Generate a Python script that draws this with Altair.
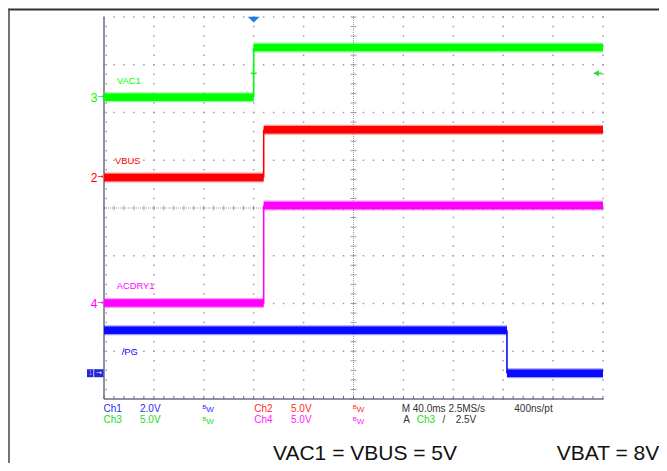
import altair as alt
import pandas as pd

# ---------------- data ----------------
channels    = ["VAC1", "VBUS", "ACDRY1", "/PG"]
scope_ch    = [3, 2, 4, 1]
volts_div   = [5.0, 5.0, 5.0, 2.0]
offset_div  = [2.32, 0.64, -1.99, -3.46]     # ground-marker position (div)
v_before    = [0.0, 0.0, 0.0, 1.8]           # level before the edge (V)
v_after     = [5.2, 5.0, 10.2, 0.0]          # level after the edge (V)
t_edge      = [0.0, 8.0, 8.0, 203.0]         # edge time (ms, trigger at 0)
colors      = ["#00ff00", "#ff0000", "#ff00ff", "#0a0aff"]
text_colors = ["#22dd22", "#ff2a2a", "#ff22ff", "#2a2aff"]

# channel label anchors (time ms, divisions)
label_t   = [-109.6, -111.2, -109.8, -105.8]
label_div = [2.60, 0.92, -1.70, -3.08]

t_min, t_max = -120.0, 280.0      # 10 div x 40 ms/div
y_min, y_max = -4.0, 4.0          # 8 divisions
trig_ch_index = 0                 # trigger on Ch3 (VAC1)
trig_level_v = 2.5

xs = alt.Scale(domain=[t_min, t_max], nice=False, zero=False)
ys = alt.Scale(domain=[y_min, y_max], nice=False, zero=False)
cscale = alt.Scale(domain=channels, range=colors)
tscale = alt.Scale(domain=channels, range=text_colors)

# ---------------- trace segments ----------------
hrows, vrows = [], []
for i, ch in enumerate(channels):
    lo = offset_div[i] + v_before[i] / volts_div[i]
    hi = offset_div[i] + v_after[i] / volts_div[i]
    hrows.append(dict(ch=ch, t0=t_min, t1=t_edge[i], y=lo))
    hrows.append(dict(ch=ch, t0=t_edge[i], t1=t_max, y=hi))
    vrows.append(dict(ch=ch, t=t_edge[i], y0=lo, y1=hi))
hdf = pd.DataFrame(hrows)
vdf = pd.DataFrame(vrows)

# ---------------- graticule ----------------
step_t = (t_max - t_min) / 50.0
step_y = (y_max - y_min) / 40.0
hlines = [4, 3, 2, 1, -1, -2, -3]
vlines = [-80, -40, 0, 40, 120, 160, 200, 240, 280]
dots = []
for yv in hlines:
    for k in range(51):
        dots.append(dict(t=t_min + k * step_t, y=yv))
for tv in vlines:
    for k in range(41):
        dots.append(dict(t=tv, y=y_min + k * step_y))
for k in range(1, 40):
    dots.append(dict(t=t_min + 1.8, y=y_min + k * step_y))
dots_df = pd.DataFrame(dots)

t_center = (t_min + t_max) / 2
hticks = pd.DataFrame(dict(t=[t_min + k * step_t for k in range(51)]))
vticks = pd.DataFrame(dict(y=[y_min + k * step_y for k in range(41)]))

grid_col = "#9a9aae"
edge_col = "#6c6c82"

dots_layer = alt.Chart(dots_df).mark_square(size=2.2, color=grid_col, opacity=1).encode(
    x=alt.X("t:Q", scale=xs, axis=None), y=alt.Y("y:Q", scale=ys, axis=None))

center_h = alt.Chart(pd.DataFrame(dict(a=[t_min], b=[t_max], y=[0.0]))).mark_rule(
    color=grid_col, strokeWidth=1, strokeDash=[1, 1]).encode(
    x=alt.X("a:Q", scale=xs, axis=None), x2="b:Q", y=alt.Y("y:Q", scale=ys, axis=None))
center_v = alt.Chart(pd.DataFrame(dict(t=[t_center], a=[y_min], b=[y_max]))).mark_rule(
    color=grid_col, strokeWidth=1, strokeDash=[1, 1]).encode(
    x=alt.X("t:Q", scale=xs, axis=None), y=alt.Y("a:Q", scale=ys, axis=None), y2="b:Q")
center_h_ticks = alt.Chart(hticks).transform_calculate(a="-0.05", b="0.05").mark_rule(
    color=grid_col, strokeWidth=1).encode(
    x=alt.X("t:Q", scale=xs, axis=None), y=alt.Y("a:Q", scale=ys, axis=None), y2="b:Q")
center_v_ticks = alt.Chart(vticks).transform_calculate(
    a=f"{t_center} - 2.4", b=f"{t_center} + 2.4").mark_rule(
    color=grid_col, strokeWidth=1).encode(
    x=alt.X("a:Q", scale=xs, axis=None), x2="b:Q", y=alt.Y("y:Q", scale=ys, axis=None))
bottom_ticks = alt.Chart(hticks).transform_calculate(a=f"{y_min}", b=f"{y_min} + 0.065").mark_rule(
    color=edge_col, strokeWidth=1).encode(
    x=alt.X("t:Q", scale=xs, axis=None), y=alt.Y("a:Q", scale=ys, axis=None), y2="b:Q")
left_edge = alt.Chart(pd.DataFrame(dict(t=[t_min], a=[y_min], b=[y_max]))).mark_rule(
    color=edge_col, strokeWidth=1.5).encode(
    x=alt.X("t:Q", scale=xs, axis=None), y=alt.Y("a:Q", scale=ys, axis=None), y2="b:Q")
bottom_edge = alt.Chart(pd.DataFrame(dict(a=[t_min], b=[t_max], y=[y_min]))).mark_rule(
    color=edge_col, strokeWidth=1.5).encode(
    x=alt.X("a:Q", scale=xs, axis=None), x2="b:Q", y=alt.Y("y:Q", scale=ys, axis=None))

# ---------------- traces ----------------
band_soft = alt.Chart(hdf).mark_rule(strokeWidth=10, opacity=0.4, strokeCap="butt").encode(
    x=alt.X("t0:Q", scale=xs, axis=None), x2="t1:Q", y=alt.Y("y:Q", scale=ys, axis=None),
    color=alt.Color("ch:N", scale=cscale, legend=None))
band_core = alt.Chart(hdf).mark_rule(strokeWidth=7.5, strokeCap="butt").encode(
    x=alt.X("t0:Q", scale=xs, axis=None), x2="t1:Q", y=alt.Y("y:Q", scale=ys, axis=None),
    color=alt.Color("ch:N", scale=cscale, legend=None))
edges = alt.Chart(vdf).mark_rule(strokeWidth=1.6).encode(
    x=alt.X("t:Q", scale=xs, axis=None), y=alt.Y("y0:Q", scale=ys, axis=None), y2="y1:Q",
    color=alt.Color("ch:N", scale=cscale, legend=None))

trig_div = offset_div[trig_ch_index] + trig_level_v / volts_div[trig_ch_index]
trig_tick = alt.Chart(pd.DataFrame(dict(a=[-2.4], b=[2.4], y=[trig_div]))).mark_rule(
    color=colors[trig_ch_index], strokeWidth=1.5).encode(
    x=alt.X("a:Q", scale=xs, axis=None), x2="b:Q", y=alt.Y("y:Q", scale=ys, axis=None))
# trigger-level arrow at the right edge
trig_arrow_line = alt.Chart(pd.DataFrame(dict(a=[t_max - 5.6], b=[t_max - 0.8], y=[trig_div]))).mark_rule(
    color="#33dd33", strokeWidth=1.5).encode(
    x=alt.X("a:Q", scale=xs, axis=None), x2="b:Q", y=alt.Y("y:Q", scale=ys, axis=None))
trig_arrow_head = alt.Chart(pd.DataFrame(dict(t=[t_max - 5.6], y=[trig_div]))).mark_point(
    shape="M-1,0L1,-1L1,1Z", size=36, filled=True, opacity=1, color="#33dd33").encode(
    x=alt.X("t:Q", scale=xs, axis=None), y=alt.Y("y:Q", scale=ys, axis=None))
trig_pos = alt.Chart(pd.DataFrame(dict(t=[0.0]))).mark_point(
    shape="M-1,-0.45L1,-0.45L0,0.5Z", size=144, filled=True, color="#1f7de6", opacity=1).encode(
    x=alt.X("t:Q", scale=xs, axis=None), y=alt.value(2.5))

# ---------------- labels ----------------
lab_df = pd.DataFrame(dict(t=label_t, y=label_div, text=channels, ch=channels))
labels = alt.Chart(lab_df).mark_text(font="Liberation Sans", fontSize=9.4, align="left",
                                     baseline="alphabetic").encode(
    x=alt.X("t:Q", scale=xs, axis=None), y=alt.Y("y:Q", scale=ys, axis=None), text="text:N",
    color=alt.Color("ch:N", scale=tscale, legend=None))

gm_df = pd.DataFrame(dict(y=offset_div[:3], text=[str(c) for c in scope_ch[:3]], ch=channels[:3]))
gm_num = alt.Chart(gm_df).mark_text(font="Liberation Sans", fontSize=12, align="right",
                                    baseline="middle", dy=0.5).encode(
    x=alt.value(-6.5), y=alt.Y("y:Q", scale=ys, axis=None), text="text:N",
    color=alt.Color("ch:N", scale=tscale, legend=None))
gm_arr = alt.Chart(gm_df).mark_text(font="DejaVu Sans", fontSize=7.5, align="left",
                                    baseline="middle", text="→").encode(
    x=alt.value(-6.5), y=alt.Y("y:Q", scale=ys, axis=None),
    color=alt.Color("ch:N", scale=tscale, legend=None))
g1_df = pd.DataFrame(dict(y=[offset_div[3]]))
g1_box = alt.Chart(g1_df).mark_rule(strokeWidth=8, color="#2424d8", strokeCap="butt").encode(
    x=alt.value(-17), x2=alt.value(-0.5), y=alt.Y("y:Q", scale=ys, axis=None))
g1_sep = alt.Chart(g1_df).mark_rule(strokeWidth=8, color="#ffffff", strokeCap="butt").encode(
    x=alt.value(-10.6), x2=alt.value(-9.8), y=alt.Y("y:Q", scale=ys, axis=None))
g1_num = alt.Chart(g1_df).mark_text(font="Liberation Sans", fontSize=7, color="#9090ff",
                                    baseline="middle", text=str(scope_ch[3])).encode(
    x=alt.value(-13.6), y=alt.Y("y:Q", scale=ys, axis=None))
g1_arr = alt.Chart(g1_df).mark_text(font="DejaVu Sans", fontSize=7, color="#ffffff",
                                    baseline="middle", text="→").encode(
    x=alt.value(-5), y=alt.Y("y:Q", scale=ys, axis=None))

# ---------------- bottom readout ----------------
r1, r2 = 394.7, 406.3
readout = [
    ("Ch1", -0.5, r1, text_colors[3], 10), ("2.0V", 36, r1, text_colors[3], 10),
    ("Ch2", 150.3, r1, text_colors[1], 10), ("5.0V", 187, r1, text_colors[1], 10),
    ("M 40.0ms 2.5MS/s", 297.7, r1, "#333333", 10), ("400ns/pt", 410.3, r1, "#333333", 10),
    ("Ch3", -0.5, r2, text_colors[0], 10), ("5.0V", 36, r2, text_colors[0], 10),
    ("Ch4", 150.3, r2, text_colors[2], 10), ("5.0V", 187, r2, text_colors[2], 10),
    ("A", 299.3, r2, "#333333", 10), ("Ch3", 312.7, r2, text_colors[0], 10),
    ("/", 338.5, r2, "#333333", 10), ("2.5V", 351.7, r2, "#333333", 10),
]
bw = [(98.3, r1, text_colors[3]), (248.7, r1, text_colors[1]),
      (98.3, r2, text_colors[0]), (248.7, r2, text_colors[2])]
for bx, by, bc in bw:
    readout.append(("B", bx, by - 2.8, bc, 6))
    readout.append(("W", bx + 4.0, by + 0.6, bc, 8))

caption = [("VAC1 = VBUS = 5V", 169, 443), ("VBAT = 8V", 452.7, 443)]

text_layers = []
for txt, x, y, col, fs in readout:
    text_layers.append(alt.Chart(pd.DataFrame(dict(k=[0]))).mark_text(
        text=txt, font="Liberation Sans", fontSize=fs, color=col, align="left",
        baseline="alphabetic").encode(x=alt.value(x), y=alt.value(y)))
for txt, x, y in caption:
    text_layers.append(alt.Chart(pd.DataFrame(dict(k=[0]))).mark_text(
        text=txt, font="Liberation Sans", fontSize=21, color="#111111", align="left",
        baseline="alphabetic").encode(x=alt.value(x), y=alt.value(y)))

# ---------------- outer frame ----------------
frame_top = alt.Chart(pd.DataFrame(dict(k=[0]))).mark_rule(color="#333333", strokeWidth=2).encode(
    x=alt.value(-95.5), x2=alt.value(560), y=alt.value(-7.5))
frame_left = alt.Chart(pd.DataFrame(dict(k=[0]))).mark_rule(color="#444444", strokeWidth=1.5).encode(
    x=alt.value(-95), y=alt.value(-8.5), y2=alt.value(460))

chart = alt.layer(
    frame_top, frame_left,
    dots_layer, center_h, center_v, center_h_ticks, center_v_ticks,
    bottom_ticks, left_edge, bottom_edge,
    band_soft, band_core, edges, trig_tick, trig_arrow_line, trig_arrow_head, trig_pos,
    labels, gm_num, gm_arr, g1_box, g1_sep, g1_num, g1_arr,
    *text_layers,
).properties(
    width=499, height=382,
    padding={"left": 96, "top": 9, "right": 56, "bottom": 64},
    autosize=alt.AutoSizeParams(type="none"),
    background="#ffffff",
).configure_view(strokeWidth=0)

chart.save("out.html", embed_options={"renderer": "svg", "actions": False})
